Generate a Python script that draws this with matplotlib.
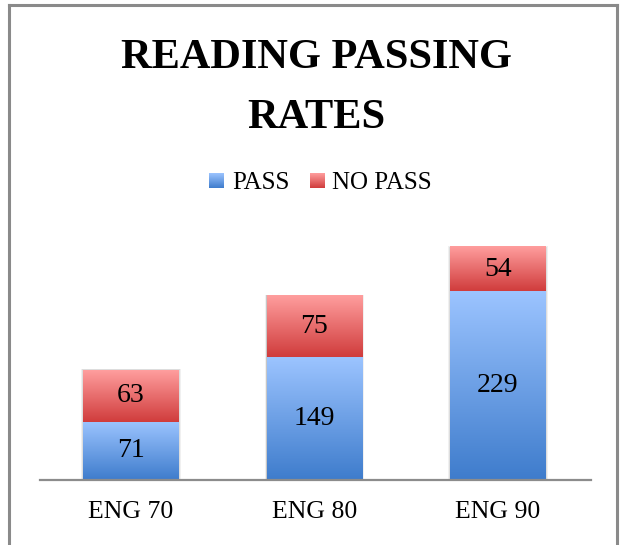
import numpy as np
import matplotlib
matplotlib.use("Agg")
import matplotlib.pyplot as plt
from matplotlib.colors import LinearSegmentedColormap
from matplotlib.lines import Line2D
from matplotlib.patches import Rectangle

courses = ["ENG 70", "ENG 80", "ENG 90"]
passed = [71, 149, 229]
no_pass = [63, 75, 54]

SERIF = "Liberation Serif"
blue = LinearSegmentedColormap.from_list("blue", ["#3E7CCC", "#9CC4FF"])
red = LinearSegmentedColormap.from_list("red", ["#D03C3C", "#FF9E9E"])
grad = np.linspace(0, 1, 256).reshape(-1, 1)


def gradient_bar(ax, x, bottom, height, width, cmap):
    """Draw one bar segment filled with a vertical gradient (light at the top)."""
    ax.imshow(grad, cmap=cmap, origin="lower", aspect="auto", interpolation="bicubic",
              extent=[x - width / 2, x + width / 2, bottom, bottom + height], zorder=2)


W, H = 625, 545
fig = plt.figure(figsize=(W / 100, H / 100), dpi=100)

# outer frame
for xs, ys in [([9, 9], [0, 540]), ([9, 617], [540, 540]), ([617, 617], [540, 0])]:
    fig.add_artist(Line2D(np.array(xs) / W, np.array(ys) / H, color="#8a8a8a", lw=2.2,
                          transform=fig.transFigure))

ax = fig.add_axes([40 / W, 65 / H, 551 / W, 247 / H])
x = np.arange(len(courses))
bw = 0.518
for i in x:
    total = passed[i] + no_pass[i]
    # soft shadow around each bar
    for k, a in [(0.012, 0.06), (0.007, 0.08), (0.003, 0.1)]:
        ax.add_patch(Rectangle((i - bw / 2 - k, -2), bw + 2 * k, total + 2 + k * 60,
                               color="black", alpha=a, lw=0, zorder=1))
    gradient_bar(ax, i, 0, passed[i], bw, blue)
    gradient_bar(ax, i, passed[i], no_pass[i], bw, red)
    ax.text(i, passed[i] / 2, str(passed[i]), ha="center", va="center",
            fontsize=20, family=SERIF, zorder=3)
    ax.text(i, passed[i] + no_pass[i] / 2, str(no_pass[i]), ha="center", va="center",
            fontsize=20, family=SERIF, zorder=3)

ax.set_xlim(-0.496, 2.507)
ax.set_ylim(0, 300)
ax.set_xticks(x)
ax.set_xticklabels(courses, fontsize=18.5, family=SERIF)
ax.tick_params(axis="x", length=0, pad=15)
ax.set_yticks([])
for s in ["left", "right", "top"]:
    ax.spines[s].set_visible(False)
ax.spines["bottom"].set_color("#8c8c8c")
ax.spines["bottom"].set_linewidth(1.6)
ax.spines["bottom"].set_zorder(4)

# title
fig.text(316 / W, 1 - 68 / H, "READING PASSING", ha="center", va="baseline",
         fontsize=30.5, fontweight="bold", family=SERIF)
fig.text(316 / W, 1 - 128 / H, "RATES", ha="center", va="baseline",
         fontsize=30.5, fontweight="bold", family=SERIF)

# legend
for x0, cmap, label, tx in [(209, blue, "PASS", 232), (310, red, "NO PASS", 332)]:
    sq = fig.add_axes([x0 / W, 1 - 188 / H, 15 / W, 15 / H])
    sq.imshow(grad, cmap=cmap, origin="lower", aspect="auto")
    sq.axis("off")
    fig.text(tx / W, 1 - 189 / H, label, ha="left", va="baseline",
             fontsize=18, family=SERIF)

fig.savefig("out.png", dpi=100)
